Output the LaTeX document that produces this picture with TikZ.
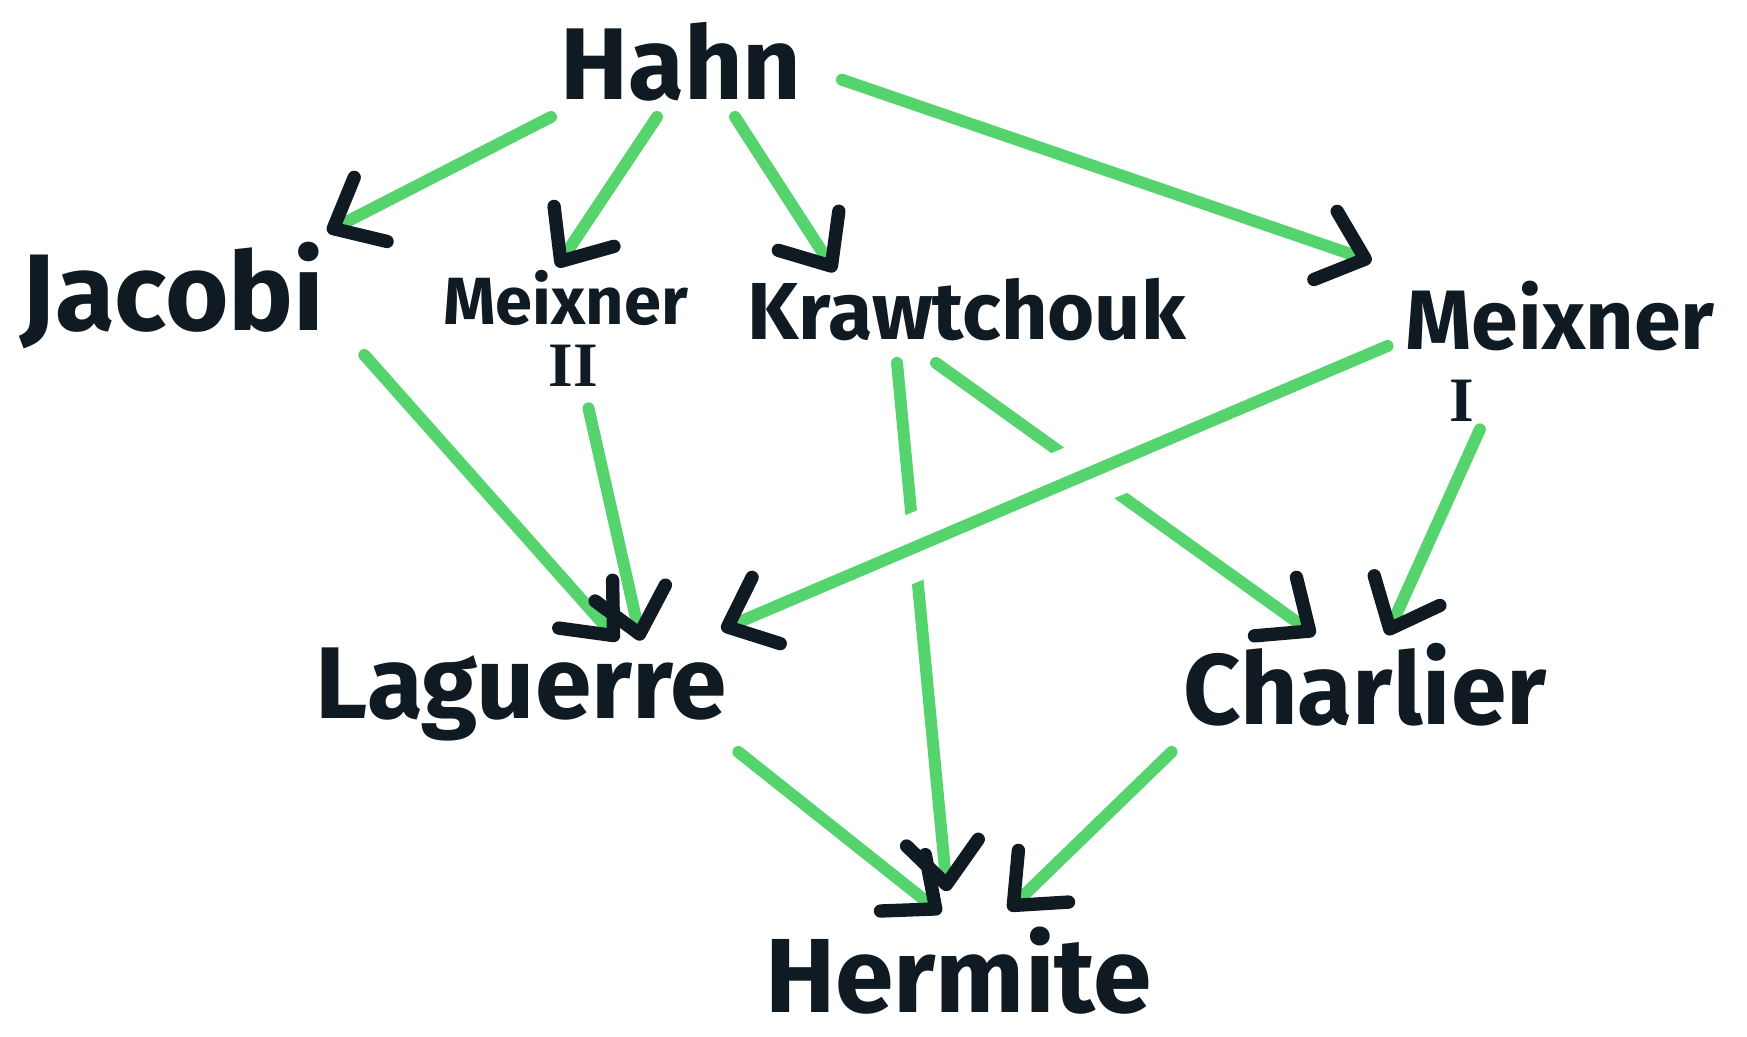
\documentclass[tikz,border=0pt]{standalone}
\usepackage{fontspec}
\setmainfont{Fira Sans}
\newfontfamily\numfont{Liberation Serif}
\usepackage{tikz}
\usetikzlibrary{positioning,arrows.meta}

\definecolor{ink}{HTML}{101A22}
\definecolor{marker}{HTML}{55D46E}

\begin{document}
\begin{tikzpicture}[->,>={Straight Barb[length=4.2mm,width=7.2mm,round,line width=3.8pt,color=ink]},
                    line width=3.4pt,line cap=round,
                    poly/.style n args={3}{font=\bfseries\fontsize{#1}{#1}\selectfont,
                      text=ink,inner sep=0pt,anchor=base,
                      text height=#3,text depth=0pt,minimum width=#2}]
  \tikzstyle{numeral}=[font=\numfont\bfseries\fontsize{18}{18}\selectfont,text=ink,inner sep=0pt]
  \tikzstyle{link}=[draw=marker]
  \tikzstyle{gap}=[-,draw=white,line width=0.66cm,line cap=butt]

  \path[fill=white] (0,0) rectangle (17.47,-10.37);
  \useasboundingbox (0,0) rectangle (17.47,-10.37);

  \node[poly={29}{2.42cm}{20.9pt}]   (hahn)     at (6.81,-1.00)   {Hahn};
  \node[poly={31}{3.01cm}{22.3pt}]   (jacobi)   at (1.725,-3.30)  {Jacobi};
  \node[poly={19}{2.39cm}{13.7pt}]   (meix2)    at (5.655,-3.25)  {Meixner};
  \node[numeral]                     (two)      [below=0.08cm of meix2, xshift=0.08cm] {II};
  \node[poly={23}{4.41cm}{16.6pt}]   (kraw)     at (9.665,-3.40)  {Krawtchouk};
  \node[poly={24}{3.00cm}{17.3pt}]   (meix1)    at (15.60,-3.50)  {Meixner};
  \node[numeral]                     (one)      [below right=0.18cm and 0.44cm of meix1.south west] {I};
  \node[poly={29}{4.06cm}{20.9pt}]   (lag)      at (5.21,-7.18)   {Laguerre};
  \node[poly={28.5}{3.56cm}{20.5pt}] (charlier) at (13.65,-7.24)  {Charlier};
  \node[poly={30}{3.79cm}{21.6pt}]   (hermite)  at (9.585,-10.12) {Hermite};

  % from Hahn
  \draw[link] ([xshift=-0.03cm,yshift=-0.11cm]hahn.south west) -- ([xshift=-0.03cm,yshift=0.14cm]jacobi.north east);
  \draw[link] ([xshift=-0.24cm,yshift=-0.11cm]hahn.south) -- ([xshift=-0.085cm,yshift=0.04cm]meix2.north);
  \draw[link] ([xshift=0.54cm,yshift=-0.11cm]hahn.south) -- ([xshift=0.95cm,yshift=0.04cm]kraw.north west);
  \draw[link] ([xshift=0.34cm,yshift=-0.165cm]hahn.east) -- ([xshift=-0.28cm,yshift=0.22cm]meix1.north west);

  % second row
  \draw[link] ([xshift=0.34cm,yshift=-0.19cm]jacobi.south east) -- ([xshift=0.97cm,yshift=-0.02cm]lag.north);
  \draw[link] ([xshift=0.15cm,yshift=-0.16cm]two.south) -- ([xshift=1.2cm,yshift=-0.02cm]lag.north);
  \draw[link] ([xshift=-0.305cm,yshift=-0.17cm]kraw.south) -- ([xshift=-0.5cm,yshift=0.11cm]charlier.north);
  \draw[link] ([xshift=-0.695cm,yshift=-0.17cm]kraw.south) -- ([xshift=-0.115cm,yshift=0.39cm]hermite.north);
  \draw[link] ([xshift=0.18cm,yshift=-0.02cm]one.south) -- ([xshift=0.22cm,yshift=0.11cm]charlier.north);

  % Meixner I crosses over the Krawtchouk lines
  \draw[gap,shorten <=2.9cm,shorten >=1.66cm] ([xshift=-0.12cm,yshift=0.10cm]meix1.south west) -- ([xshift=-0.11cm,yshift=0.09cm]lag.north east);
  \draw[link] ([xshift=-0.12cm,yshift=0.10cm]meix1.south west) -- ([xshift=-0.11cm,yshift=0.09cm]lag.north east);

  % down to Hermite
  \draw[link] ([xshift=0.06cm,yshift=-0.28cm]lag.south east) -- ([xshift=-0.175cm,yshift=0.17cm]hermite.north);
  \draw[link] ([xshift=-0.06cm,yshift=-0.22cm]charlier.south west) -- ([xshift=0.5cm,yshift=0.20cm]hermite.north);
\end{tikzpicture}
\end{document}
